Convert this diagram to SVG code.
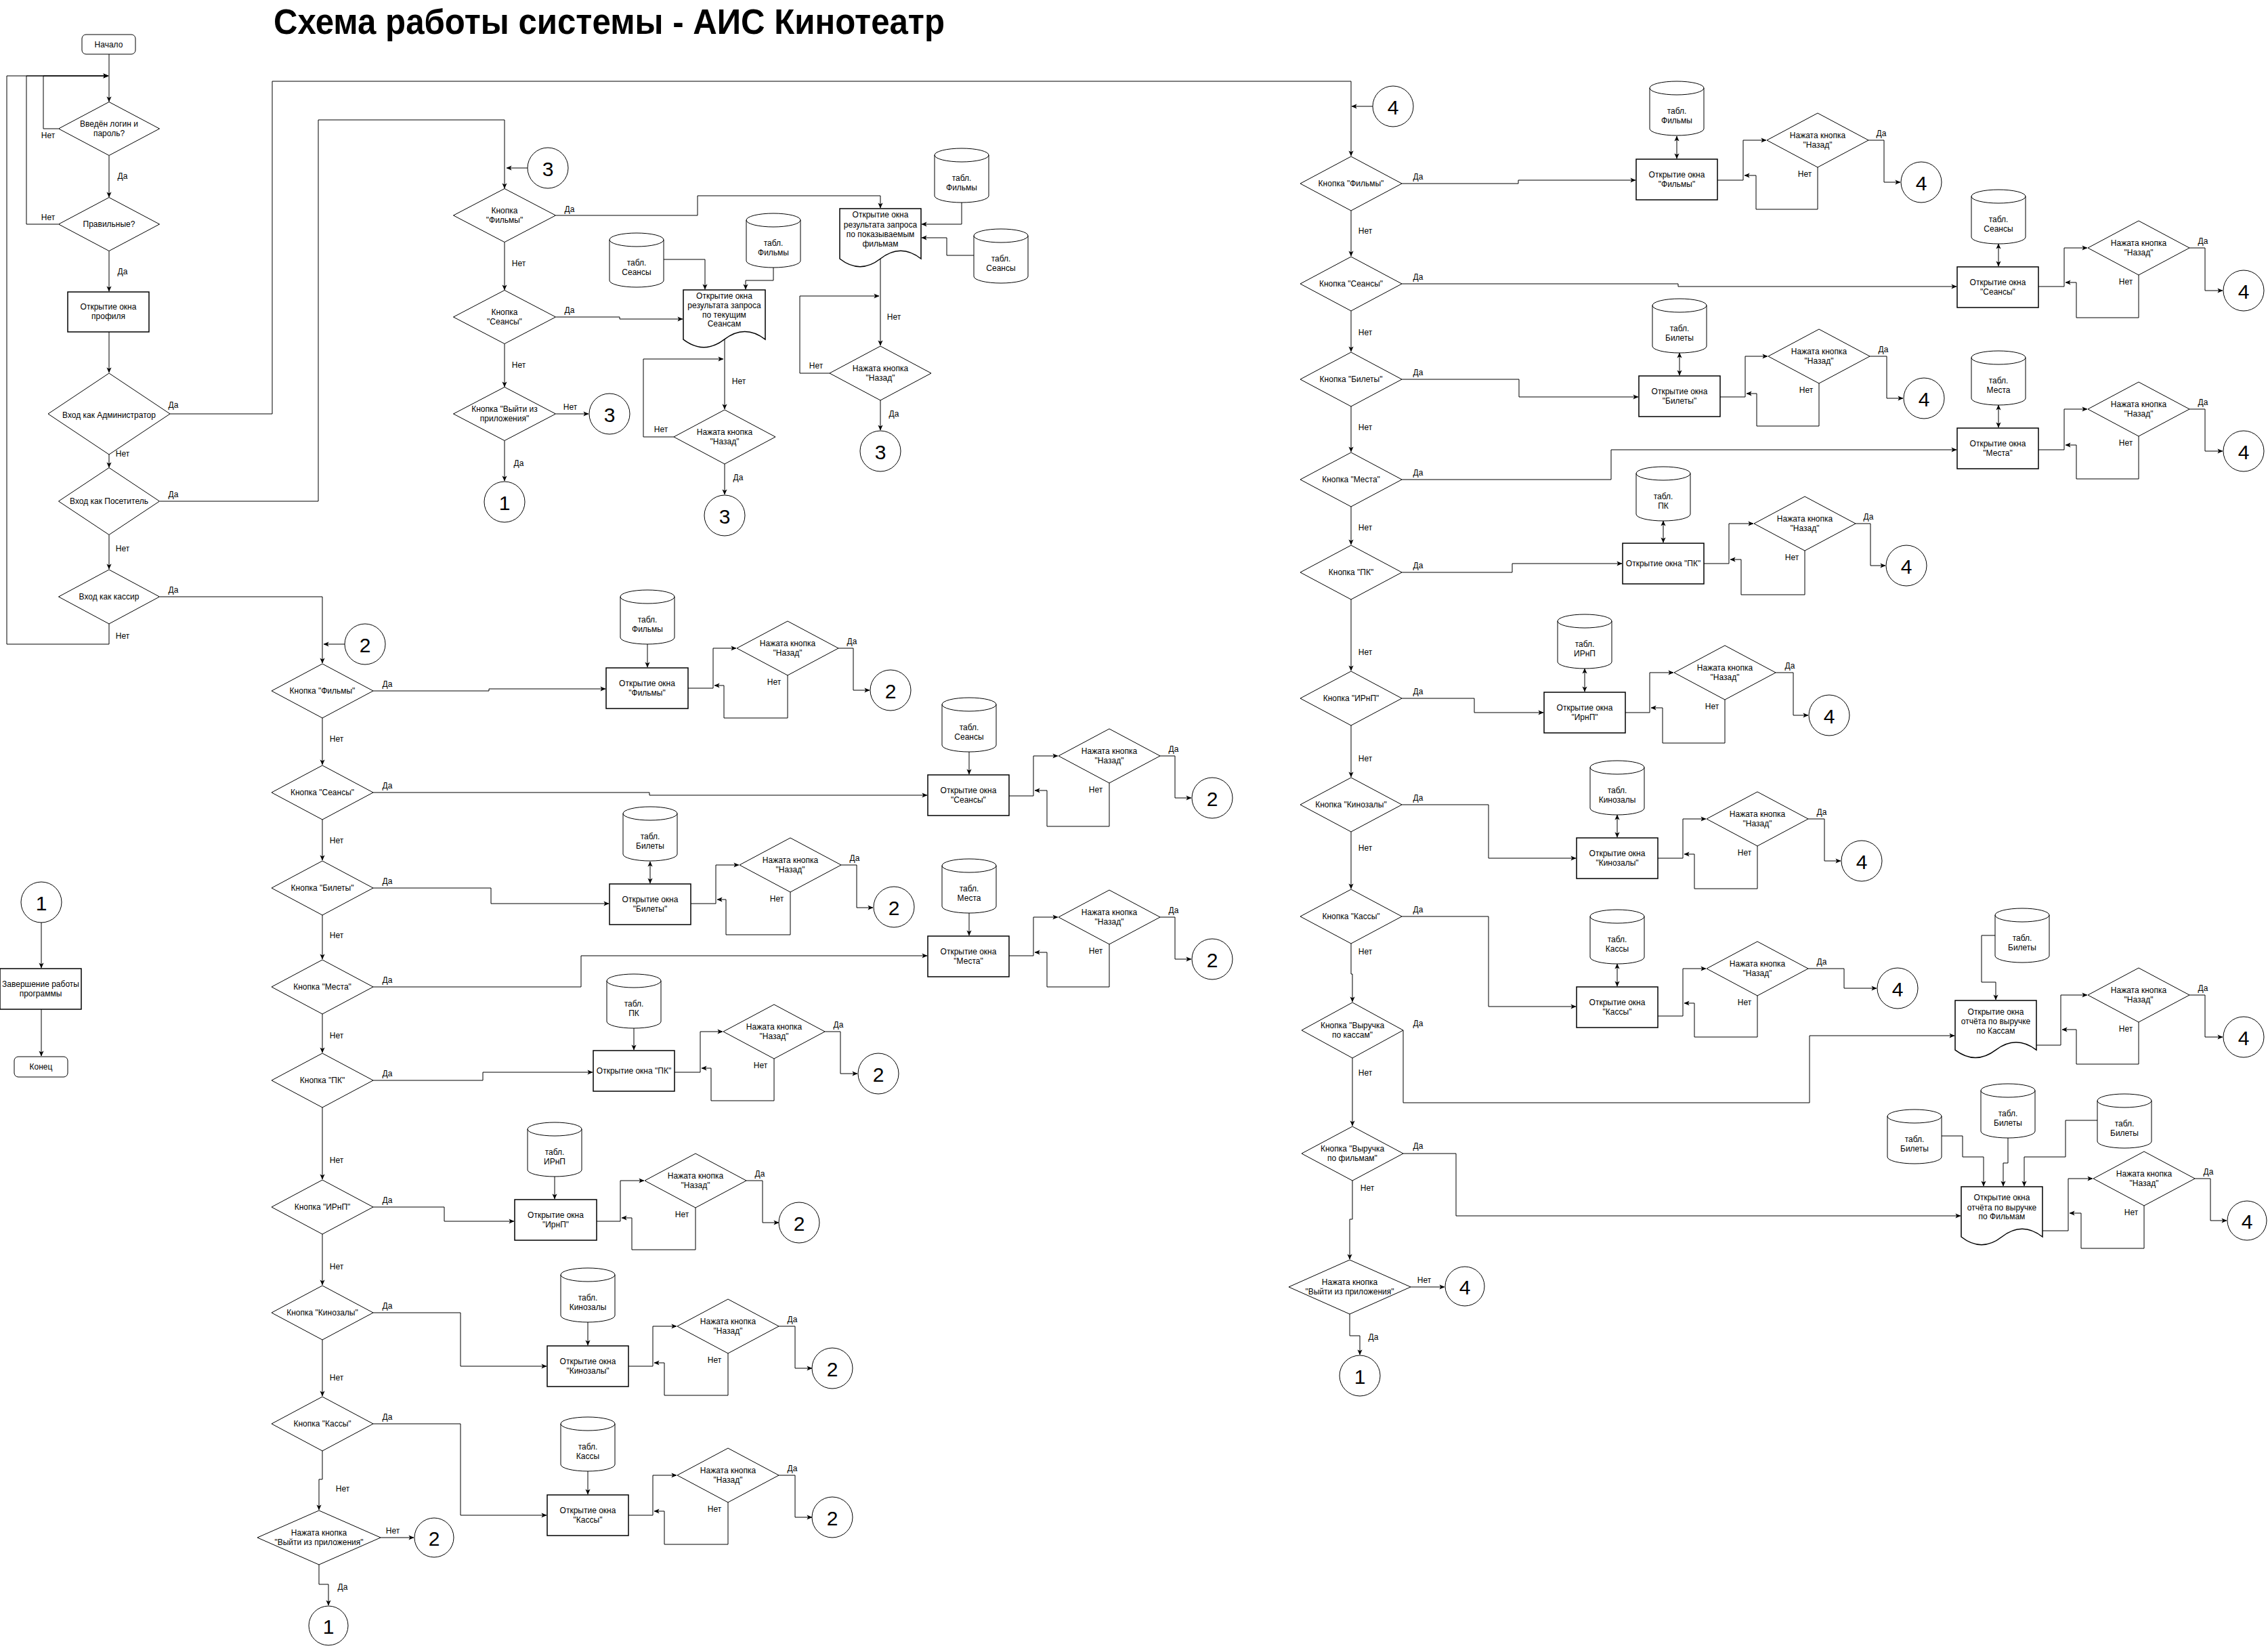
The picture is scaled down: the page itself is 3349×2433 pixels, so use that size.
<svg xmlns="http://www.w3.org/2000/svg" width="3349" height="2433" viewBox="0 0 3349 2433">
<defs>
<marker id="ar" viewBox="0 0 10 10" refX="9.5" refY="5" markerWidth="8" markerHeight="8" markerUnits="userSpaceOnUse" orient="auto-start-reverse"><path d="M0,0.5 L10,5 L0,9.5 L2.5,5 Z" fill="#000"/></marker>
</defs>
<style>
.n{fill:#fff;stroke:#000;stroke-width:1}
.r{fill:#fff;stroke:#000;stroke-width:1.5}
.f{fill:none;stroke:#000;stroke-width:1}
.c{fill:none;stroke:#000;stroke-width:1;marker-end:url(#ar)}
.d{fill:none;stroke:#000;stroke-width:1;marker-end:url(#ar);marker-start:url(#ar)}
text{font-family:"Liberation Sans",Arial,Helvetica,sans-serif;font-size:12px;text-anchor:middle;dominant-baseline:central;fill:#000}
.num{font-size:30px}
.ttl{font-size:51px;font-weight:bold;text-anchor:start;dominant-baseline:alphabetic}
</style>
<rect width="3349" height="2433" fill="#fff"/>
<text class="ttl" x="404" y="50" textLength="991" lengthAdjust="spacingAndGlyphs">Схема работы системы - АИС Кинотеатр</text>

<g id="connectors">
<!-- left column -->
<path class="c" d="M161,80 V150"/>
<path class="c" d="M86,190 H64 V112 H160"/>
<path class="c" d="M161,230 V291"/>
<path class="c" d="M86,331 H39 V112 H160"/>
<path class="c" d="M161,371 V430"/>
<path class="c" d="M161,490 V550"/>
<path class="c" d="M251,611 H402 V120 H1995 V230"/>
<path class="c" d="M161,671 V690"/>
<path class="c" d="M236,740 H470 V177 H745 V278"/>
<path class="c" d="M161,790 V840"/>
<path class="c" d="M236,881 H476 V979"/>
<path class="c" d="M161,921 V951 H10 V112 H160"/>
<path class="c" d="M61,1362 V1429"/>
<path class="c" d="M61,1490 V1559"/>
<!-- visitor -->
<path class="c" d="M779,248 H748"/>
<path class="c" d="M821,318 H1030 V289 H1300 V307"/>
<path class="c" d="M745,358 V428"/>
<path class="c" d="M821,468 H915 V471 H1008"/>
<path class="c" d="M745,508 V571"/>
<path class="c" d="M821,611 H869"/>
<path class="c" d="M745,651 V710"/>
<path class="c" d="M980,383 H1041 V427"/>
<path class="c" d="M1142,395 V414 H1101 V427"/>
<path class="c" d="M1070,501 V604"/>
<path class="c" d="M995,645 H950 V530 H1068"/>
<path class="c" d="M1070,685 V730"/>
<path class="c" d="M1420,299 V331 H1361"/>
<path class="c" d="M1438,377 H1398 V351 H1361"/>
<path class="c" d="M1300,382 V510"/>
<path class="c" d="M1225,551 H1181 V437 H1298"/>
<path class="c" d="M1300,591 V635"/>
<!-- cashier -->
<path class="c" d="M509,951 H478"/>
<path class="c" d="M551,1020 H722 V1017 H894"/>
<path class="c" d="M956,951 V985"/>
<path class="c" d="M1016,1016 H1053 V957 H1087"/>
<path class="c" d="M1238,957 H1260 V1019 H1284"/>
<path class="c" d="M1163,997 V1060 H1069 V1012 H1055"/>
<path class="c" d="M476,1060 V1129"/>
<path class="c" d="M551,1170 H959 V1174 H1369"/>
<path class="c" d="M1431,1110 V1143"/>
<path class="c" d="M1490,1175 H1526 V1116 H1562"/>
<path class="c" d="M1713,1116 H1735 V1178 H1759"/>
<path class="c" d="M1638,1156 V1220 H1546 V1167 H1528"/>
<path class="c" d="M476,1210 V1270"/>
<path class="c" d="M551,1311 H725 V1334 H899"/>
<path class="d" d="M960,1272 V1304"/>
<path class="c" d="M1020,1334 H1057 V1277 H1091"/>
<path class="c" d="M1242,1277 H1265 V1340 H1289"/>
<path class="c" d="M1167,1317 V1380 H1072 V1328 H1059"/>
<path class="c" d="M476,1351 V1416"/>
<path class="c" d="M551,1457 H858 V1411 H1369"/>
<path class="c" d="M1431,1348 V1381"/>
<path class="c" d="M1490,1411 H1526 V1354 H1562"/>
<path class="c" d="M1713,1354 H1735 V1416 H1759"/>
<path class="c" d="M1638,1394 V1457 H1546 V1406 H1528"/>
<path class="c" d="M476,1497 V1554"/>
<path class="c" d="M551,1595 H713 V1583 H875"/>
<path class="c" d="M936,1518 V1550"/>
<path class="c" d="M996,1583 H1034 V1523 H1067"/>
<path class="c" d="M1218,1523 H1241 V1585 H1266"/>
<path class="c" d="M1143,1563 V1625 H1050 V1577 H1036"/>
<path class="c" d="M476,1635 V1741"/>
<path class="c" d="M551,1782 H656 V1803 H759"/>
<path class="c" d="M819,1737 V1770"/>
<path class="c" d="M881,1803 H916 V1743 H951"/>
<path class="c" d="M1102,1743 H1126 V1805 H1150"/>
<path class="c" d="M1027,1783 V1845 H933 V1798 H918"/>
<path class="c" d="M476,1822 V1897"/>
<path class="c" d="M551,1938 H680 V2017 H807"/>
<path class="c" d="M868,1952 V1986"/>
<path class="c" d="M928,2017 H964 V1958 H999"/>
<path class="c" d="M1150,1958 H1174 V2020 H1199"/>
<path class="c" d="M1075,1998 V2060 H981 V2012 H966"/>
<path class="c" d="M476,1978 V2061"/>
<path class="c" d="M551,2102 H680 V2237 H807"/>
<path class="c" d="M868,2172 V2206"/>
<path class="c" d="M928,2237 H964 V2178 H999"/>
<path class="c" d="M1150,2178 H1174 V2240 H1199"/>
<path class="c" d="M1075,2218 V2280 H981 V2231 H966"/>
<path class="c" d="M476,2142 V2184 H471 V2229"/>
<path class="c" d="M562,2270 H611"/>
<path class="c" d="M471,2310 V2339 H485 V2370"/>
<!-- admin -->
<path class="c" d="M2027,157 H1996"/>
<path class="c" d="M2070,271 H2242 V266 H2415"/>
<path class="d" d="M2476,201 V234"/>
<path class="c" d="M2536,266 H2574 V207 H2608"/>
<path class="c" d="M2759,207 H2782 V269 H2806"/>
<path class="c" d="M2684,247 V309 H2593 V259 H2576"/>
<path class="c" d="M1995,311 V378"/>
<path class="c" d="M2070,419 H2478 V423 H2889"/>
<path class="d" d="M2951,360 V393"/>
<path class="c" d="M3010,423 H3048 V366 H3082"/>
<path class="c" d="M3233,366 H3256 V429 H3282"/>
<path class="c" d="M3158,406 V469 H3066 V417 H3050"/>
<path class="c" d="M1995,459 V519"/>
<path class="c" d="M2070,560 H2243 V586 H2419"/>
<path class="d" d="M2480,521 V554"/>
<path class="c" d="M2540,586 H2577 V526 H2610"/>
<path class="c" d="M2761,526 H2786 V588 H2810"/>
<path class="c" d="M2686,566 V629 H2594 V581 H2579"/>
<path class="c" d="M1995,600 V667"/>
<path class="c" d="M2070,708 H2379 V664 H2889"/>
<path class="d" d="M2951,598 V631"/>
<path class="c" d="M3010,664 H3048 V604 H3082"/>
<path class="c" d="M3233,604 H3256 V666 H3282"/>
<path class="c" d="M3158,644 V707 H3066 V657 H3050"/>
<path class="c" d="M1995,748 V804"/>
<path class="c" d="M2070,845 H2233 V832 H2395"/>
<path class="d" d="M2456,769 V801"/>
<path class="c" d="M2516,832 H2553 V773 H2589"/>
<path class="c" d="M2740,773 H2762 V835 H2784"/>
<path class="c" d="M2665,813 V878 H2571 V826 H2555"/>
<path class="c" d="M1995,885 V990"/>
<path class="c" d="M2070,1031 H2177 V1052 H2279"/>
<path class="d" d="M2340,987 V1021"/>
<path class="c" d="M2400,1052 H2436 V993 H2471"/>
<path class="c" d="M2622,993 H2648 V1056 H2670"/>
<path class="c" d="M2547,1033 V1097 H2455 V1045 H2438"/>
<path class="c" d="M1995,1071 V1147"/>
<path class="c" d="M2070,1188 H2198 V1267 H2327"/>
<path class="d" d="M2388,1203 V1236"/>
<path class="c" d="M2448,1267 H2485 V1209 H2519"/>
<path class="c" d="M2670,1209 H2694 V1271 H2718"/>
<path class="c" d="M2595,1249 V1312 H2502 V1261 H2487"/>
<path class="c" d="M1995,1228 V1312"/>
<path class="c" d="M2070,1353 H2198 V1486 H2327"/>
<path class="d" d="M2388,1423 V1456"/>
<path class="c" d="M2448,1500 H2485 V1430 H2519"/>
<path class="c" d="M2670,1430 H2723 V1459 H2771"/>
<path class="c" d="M2595,1470 V1531 H2502 V1481 H2487"/>
<path class="c" d="M1995,1393 V1438 H1997 V1479"/>
<path class="c" d="M2072,1521 V1628 H2672 V1529 H2886"/>
<path class="c" d="M2946,1381 H2926 V1450 H2947 V1476"/>
<path class="c" d="M3007,1543 H3043 V1469 H3082"/>
<path class="c" d="M3233,1469 H3256 V1531 H3282"/>
<path class="c" d="M3158,1509 V1571 H3066 V1520 H3045"/>
<path class="c" d="M1997,1562 V1662"/>
<path class="c" d="M2072,1703 H2150 V1795 H2895"/>
<path class="c" d="M2867,1677 H2898 V1708 H2929 V1751"/>
<path class="c" d="M2965,1680 V1717 H2958 V1751"/>
<path class="c" d="M3097,1654 H3050 V1708 H2989 V1751"/>
<path class="c" d="M3016,1817 H3054 V1740 H3090"/>
<path class="c" d="M3241,1740 H3264 V1802 H3288"/>
<path class="c" d="M3166,1780 V1843 H3073 V1791 H3056"/>
<path class="c" d="M1997,1743 V1800 H1993 V1859"/>
<path class="c" d="M2083,1900 H2133"/>
<path class="c" d="M1993,1940 V1972 H2008 V2000"/>
<!-- labels -->
<text x="71" y="200">Нет</text>
<text x="181" y="260">Да</text>
<text x="71" y="321">Нет</text>
<text x="181" y="401">Да</text>
<text x="256" y="598">Да</text>
<text x="181" y="670">Нет</text>
<text x="256" y="730">Да</text>
<text x="181" y="810">Нет</text>
<text x="256" y="871">Да</text>
<text x="181" y="939">Нет</text>
<text x="841" y="309">Да</text>
<text x="766" y="389">Нет</text>
<text x="841" y="458">Да</text>
<text x="766" y="539">Нет</text>
<text x="842" y="601">Нет</text>
<text x="766" y="684">Да</text>
<text x="1091" y="563">Нет</text>
<text x="976" y="634">Нет</text>
<text x="1090" y="705">Да</text>
<text x="1320" y="468">Нет</text>
<text x="1205" y="540">Нет</text>
<text x="1320" y="611">Да</text>
<text x="572" y="1010">Да</text>
<text x="572" y="1160">Да</text>
<text x="572" y="1301">Да</text>
<text x="572" y="1447">Да</text>
<text x="572" y="1585">Да</text>
<text x="572" y="1772">Да</text>
<text x="572" y="1928">Да</text>
<text x="572" y="2092">Да</text>
<text x="497" y="1091">Нет</text>
<text x="497" y="1241">Нет</text>
<text x="497" y="1381">Нет</text>
<text x="497" y="1529">Нет</text>
<text x="497" y="1713">Нет</text>
<text x="497" y="1870">Нет</text>
<text x="497" y="2034">Нет</text>
<text x="506" y="2198">Нет</text>
<text x="580" y="2260">Нет</text>
<text x="506" y="2343">Да</text>
<text x="1258" y="947">Да</text>
<text x="1733" y="1106">Да</text>
<text x="1262" y="1267">Да</text>
<text x="1733" y="1344">Да</text>
<text x="1238" y="1513">Да</text>
<text x="1122" y="1733">Да</text>
<text x="1170" y="1948">Да</text>
<text x="1170" y="2168">Да</text>
<text x="1143" y="1007">Нет</text>
<text x="1618" y="1166">Нет</text>
<text x="1147" y="1327">Нет</text>
<text x="1618" y="1404">Нет</text>
<text x="1123" y="1573">Нет</text>
<text x="1007" y="1793">Нет</text>
<text x="1055" y="2008">Нет</text>
<text x="1055" y="2228">Нет</text>
<text x="2094" y="261">Да</text>
<text x="2094" y="409">Да</text>
<text x="2094" y="550">Да</text>
<text x="2094" y="698">Да</text>
<text x="2094" y="835">Да</text>
<text x="2094" y="1021">Да</text>
<text x="2094" y="1178">Да</text>
<text x="2094" y="1343">Да</text>
<text x="2094" y="1511">Да</text>
<text x="2094" y="1692">Да</text>
<text x="2016" y="341">Нет</text>
<text x="2016" y="491">Нет</text>
<text x="2016" y="631">Нет</text>
<text x="2016" y="779">Нет</text>
<text x="2016" y="963">Нет</text>
<text x="2016" y="1120">Нет</text>
<text x="2016" y="1252">Нет</text>
<text x="2016" y="1405">Нет</text>
<text x="2016" y="1584">Нет</text>
<text x="2019" y="1754">Нет</text>
<text x="2103" y="1890">Нет</text>
<text x="2028" y="1974">Да</text>
<text x="2778" y="197">Да</text>
<text x="3253" y="356">Да</text>
<text x="2781" y="516">Да</text>
<text x="3253" y="594">Да</text>
<text x="2759" y="763">Да</text>
<text x="2643" y="983">Да</text>
<text x="2690" y="1199">Да</text>
<text x="2690" y="1420">Да</text>
<text x="3253" y="1459">Да</text>
<text x="3261" y="1730">Да</text>
<text x="2665" y="257">Нет</text>
<text x="3139" y="416">Нет</text>
<text x="2667" y="576">Нет</text>
<text x="3139" y="654">Нет</text>
<text x="2646" y="823">Нет</text>
<text x="2528" y="1043">Нет</text>
<text x="2576" y="1259">Нет</text>
<text x="2576" y="1480">Нет</text>
<text x="3139" y="1519">Нет</text>
<text x="3147" y="1790">Нет</text>
</g>

<!-- ===== left column ===== -->
<g id="start"><rect class="n" x="121" y="51" width="79" height="29" rx="6"/><text x="160.5" y="65.5">Начало</text></g>
<g id="d-login"><polygon class="n" points="86.5,190 161,150.5 235.5,190 161,229.5"/><text x="161" y="183">Введён логин и</text><text x="161" y="197">пароль?</text></g>
<g id="d-correct"><polygon class="n" points="86.5,331 161,291.5 235.5,331 161,370.5"/><text x="161" y="331">Правильные?</text></g>
<g id="r-profile"><rect class="r" x="100" y="431" width="120" height="59"/><text x="160" y="453">Открытие окна</text><text x="160" y="467">профиля</text></g>
<g id="d-admin"><polygon class="n" points="71,611 161,551 251,611 161,671"/><text x="161" y="613">Вход как Администратор</text></g>
<g id="d-visitor"><polygon class="n" points="86.5,740 161,690.5 235.5,740 161,789.5"/><text x="161" y="740">Вход как Посетитель</text></g>
<g id="d-cashier"><polygon class="n" points="86.5,881 161,841 235.5,881 161,921"/><text x="161" y="881">Вход как кассир</text></g>
<g id="c1-left"><circle class="n" cx="61" cy="1332" r="30"/><text class="num" x="61" y="1333">1</text></g>
<g id="r-finish"><rect class="r" x="0" y="1430" width="120" height="60"/><text x="60" y="1453">Завершение работы</text><text x="60" y="1467">программы</text></g>
<g id="end"><rect class="n" x="21" y="1560" width="79" height="30" rx="6"/><text x="60.5" y="1575">Конец</text></g>

<!-- ===== visitor ===== -->
<g id="v-c3a"><circle class="n" cx="809" cy="248" r="30"/><text class="num" x="809" y="249">3</text></g>
<g id="v-films"><polygon class="n" points="669.5,318 745,278.5 820.5,318 745,357.5"/><text x="745" y="311">Кнопка</text><text x="745" y="325">"Фильмы"</text></g>
<g id="v-sessions"><polygon class="n" points="669.5,468 745,428.5 820.5,468 745,507.5"/><text x="745" y="461">Кнопка</text><text x="745" y="475">"Сеансы"</text></g>
<g id="v-exit"><polygon class="n" points="669.5,611 745,571.5 820.5,611 745,650.5"/><text x="745" y="604">Кнопка "Выйти из</text><text x="745" y="618">приложения"</text></g>
<g id="v-c3b"><circle class="n" cx="900" cy="611" r="30"/><text class="num" x="900" y="612">3</text></g>
<g id="v-c1"><circle class="n" cx="745" cy="741" r="30"/><text class="num" x="745" y="742">1</text></g>
<g id="v-cyl-s1" transform="translate(900,344)"><path class="n" d="M0,10 a40,10 0 0 1 80,0 v60 a40,10 0 0 1 -80,0 z"/><path class="f" d="M0,10 a40,10 0 0 0 80,0"/><text x="40" y="44">табл.</text><text x="40" y="58">Сеансы</text></g>
<g id="v-cyl-f1" transform="translate(1102,315)"><path class="n" d="M0,10 a40,10 0 0 1 80,0 v60 a40,10 0 0 1 -80,0 z"/><path class="f" d="M0,10 a40,10 0 0 0 80,0"/><text x="40" y="44">табл.</text><text x="40" y="58">Фильмы</text></g>
<g id="v-doc1" transform="translate(1009,428)"><path class="r" d="M0,0 H121 V73.1 Q90.75,49.9 60.5,73.1 Q30.25,96.3 0,73.1 Z"/><text x="60.5" y="9">Открытие окна</text><text x="60.5" y="23">результата запроса</text><text x="60.5" y="37">по текущим</text><text x="60.5" y="50">Сеансам</text></g>
<g id="v-back1"><polygon class="n" points="995,645 1070,605 1145,645 1070,685"/><text x="1070" y="638">Нажата кнопка</text><text x="1070" y="652">"Назад"</text></g>
<g id="v-c3c"><circle class="n" cx="1070" cy="761" r="30"/><text class="num" x="1070" y="762">3</text></g>
<g id="v-doc2" transform="translate(1240,308)"><path class="r" d="M0,0 H120 V74 Q90,50.5 60,74 Q30,97.4 0,74 Z"/><text x="60" y="9">Открытие окна</text><text x="60" y="24">результата запроса</text><text x="60" y="38">по показываемым</text><text x="60" y="52">фильмам</text></g>
<g id="v-cyl-f2" transform="translate(1380,219)"><path class="n" d="M0,10 a40,10 0 0 1 80,0 v60 a40,10 0 0 1 -80,0 z"/><path class="f" d="M0,10 a40,10 0 0 0 80,0"/><text x="40" y="44">табл.</text><text x="40" y="58">Фильмы</text></g>
<g id="v-cyl-s2" transform="translate(1438,338)"><path class="n" d="M0,10 a40,10 0 0 1 80,0 v60 a40,10 0 0 1 -80,0 z"/><path class="f" d="M0,10 a40,10 0 0 0 80,0"/><text x="40" y="44">табл.</text><text x="40" y="58">Сеансы</text></g>
<g id="v-back2"><polygon class="n" points="1225,551 1300,511 1375,551 1300,591"/><text x="1300" y="544">Нажата кнопка</text><text x="1300" y="558">"Назад"</text></g>
<g id="v-c3d"><circle class="n" cx="1300" cy="666" r="30"/><text class="num" x="1300" y="667">3</text></g>

<!-- ===== cashier ===== -->
<g id="k-c2a"><circle class="n" cx="539" cy="951" r="30"/><text class="num" x="539" y="952">2</text></g>
<g id="k-films"><polygon class="n" points="401,1020 476,980 551,1020 476,1060"/><text x="476" y="1020">Кнопка "Фильмы"</text></g>
<g id="k-sessions"><polygon class="n" points="401,1170 476,1130 551,1170 476,1210"/><text x="476" y="1170">Кнопка "Сеансы"</text></g>
<g id="k-tickets"><polygon class="n" points="401,1311 476,1271 551,1311 476,1351"/><text x="476" y="1311">Кнопка "Билеты"</text></g>
<g id="k-seats"><polygon class="n" points="401,1457 476,1417 551,1457 476,1497"/><text x="476" y="1457">Кнопка "Места"</text></g>
<g id="k-pk"><polygon class="n" points="401,1595 476,1555 551,1595 476,1635"/><text x="476" y="1595">Кнопка "ПК"</text></g>
<g id="k-irnp"><polygon class="n" points="401,1782 476,1742 551,1782 476,1822"/><text x="476" y="1782">Кнопка "ИРнП"</text></g>
<g id="k-halls"><polygon class="n" points="401,1938 476,1898 551,1938 476,1978"/><text x="476" y="1938">Кнопка "Кинозалы"</text></g>
<g id="k-cash"><polygon class="n" points="401,2102 476,2062 551,2102 476,2142"/><text x="476" y="2102">Кнопка "Кассы"</text></g>
<g id="k-exit"><polygon class="n" points="380,2270 471,2230 562,2270 471,2310"/><text x="471" y="2263">Нажата кнопка</text><text x="471" y="2277">"Выйти из приложения"</text></g>
<g id="k-c2x"><circle class="n" cx="641" cy="2270" r="29"/><text class="num" x="641" y="2271">2</text></g>
<g id="k-c1"><circle class="n" cx="485" cy="2400" r="29"/><text class="num" x="485" y="2401">1</text></g>

<g id="k-r1"><rect class="r" x="895" y="986" width="121" height="60"/><text x="955.5" y="1009">Открытие окна</text><text x="955.5" y="1023">"Фильмы"</text></g>
<g id="k-cyl1" transform="translate(916,871)"><path class="n" d="M0,10 a40,10 0 0 1 80,0 v60 a40,10 0 0 1 -80,0 z"/><path class="f" d="M0,10 a40,10 0 0 0 80,0"/><text x="40" y="44">табл.</text><text x="40" y="58">Фильмы</text></g>
<g id="k-b1"><polygon class="n" points="1088,957 1163,917 1238,957 1163,997"/><text x="1163" y="950">Нажата кнопка</text><text x="1163" y="964">"Назад"</text></g>
<g id="k-n1"><circle class="n" cx="1315" cy="1019" r="30"/><text class="num" x="1315" y="1020">2</text></g>

<g id="k-r2"><rect class="r" x="1370" y="1144" width="120" height="60"/><text x="1430" y="1167">Открытие окна</text><text x="1430" y="1181">"Сеансы"</text></g>
<g id="k-cyl2" transform="translate(1391,1030)"><path class="n" d="M0,10 a40,10 0 0 1 80,0 v60 a40,10 0 0 1 -80,0 z"/><path class="f" d="M0,10 a40,10 0 0 0 80,0"/><text x="40" y="44">табл.</text><text x="40" y="58">Сеансы</text></g>
<g id="k-b2"><polygon class="n" points="1563,1116 1638,1076 1713,1116 1638,1156"/><text x="1638" y="1109">Нажата кнопка</text><text x="1638" y="1123">"Назад"</text></g>
<g id="k-n2"><circle class="n" cx="1790" cy="1178" r="30"/><text class="num" x="1790" y="1179">2</text></g>

<g id="k-r3"><rect class="r" x="900" y="1305" width="120" height="60"/><text x="960" y="1328">Открытие окна</text><text x="960" y="1342">"Билеты"</text></g>
<g id="k-cyl3" transform="translate(920,1191)"><path class="n" d="M0,10 a40,10 0 0 1 80,0 v60 a40,10 0 0 1 -80,0 z"/><path class="f" d="M0,10 a40,10 0 0 0 80,0"/><text x="40" y="44">табл.</text><text x="40" y="58">Билеты</text></g>
<g id="k-b3"><polygon class="n" points="1092,1277 1167,1237 1242,1277 1167,1317"/><text x="1167" y="1270">Нажата кнопка</text><text x="1167" y="1284">"Назад"</text></g>
<g id="k-n3"><circle class="n" cx="1320" cy="1339" r="30"/><text class="num" x="1320" y="1340">2</text></g>

<g id="k-r4"><rect class="r" x="1370" y="1382" width="120" height="60"/><text x="1430" y="1405">Открытие окна</text><text x="1430" y="1419">"Места"</text></g>
<g id="k-cyl4" transform="translate(1391,1268)"><path class="n" d="M0,10 a40,10 0 0 1 80,0 v60 a40,10 0 0 1 -80,0 z"/><path class="f" d="M0,10 a40,10 0 0 0 80,0"/><text x="40" y="44">табл.</text><text x="40" y="58">Места</text></g>
<g id="k-b4"><polygon class="n" points="1563,1354 1638,1314 1713,1354 1638,1394"/><text x="1638" y="1347">Нажата кнопка</text><text x="1638" y="1361">"Назад"</text></g>
<g id="k-n4"><circle class="n" cx="1790" cy="1416" r="30"/><text class="num" x="1790" y="1417">2</text></g>

<g id="k-r5"><rect class="r" x="876" y="1551" width="120" height="60"/><text x="936" y="1581">Открытие окна "ПК"</text></g>
<g id="k-cyl5" transform="translate(896,1438)"><path class="n" d="M0,10 a40,10 0 0 1 80,0 v60 a40,10 0 0 1 -80,0 z"/><path class="f" d="M0,10 a40,10 0 0 0 80,0"/><text x="40" y="44">табл.</text><text x="40" y="58">ПК</text></g>
<g id="k-b5"><polygon class="n" points="1068,1523 1143,1483 1218,1523 1143,1563"/><text x="1143" y="1516">Нажата кнопка</text><text x="1143" y="1530">"Назад"</text></g>
<g id="k-n5"><circle class="n" cx="1297" cy="1585" r="30"/><text class="num" x="1297" y="1586">2</text></g>

<g id="k-r6"><rect class="r" x="760" y="1771" width="121" height="60"/><text x="820.5" y="1794">Открытие окна</text><text x="820.5" y="1808">"ИрнП"</text></g>
<g id="k-cyl6" transform="translate(779,1657)"><path class="n" d="M0,10 a40,10 0 0 1 80,0 v60 a40,10 0 0 1 -80,0 z"/><path class="f" d="M0,10 a40,10 0 0 0 80,0"/><text x="40" y="44">табл.</text><text x="40" y="58">ИРнП</text></g>
<g id="k-b6"><polygon class="n" points="952,1743 1027,1703 1102,1743 1027,1783"/><text x="1027" y="1736">Нажата кнопка</text><text x="1027" y="1750">"Назад"</text></g>
<g id="k-n6"><circle class="n" cx="1180" cy="1805" r="30"/><text class="num" x="1180" y="1806">2</text></g>

<g id="k-r7"><rect class="r" x="808" y="1987" width="120" height="60"/><text x="868" y="2010">Открытие окна</text><text x="868" y="2024">"Кинозалы"</text></g>
<g id="k-cyl7" transform="translate(828,1872)"><path class="n" d="M0,10 a40,10 0 0 1 80,0 v60 a40,10 0 0 1 -80,0 z"/><path class="f" d="M0,10 a40,10 0 0 0 80,0"/><text x="40" y="44">табл.</text><text x="40" y="58">Кинозалы</text></g>
<g id="k-b7"><polygon class="n" points="1000,1958 1075,1918 1150,1958 1075,1998"/><text x="1075" y="1951">Нажата кнопка</text><text x="1075" y="1965">"Назад"</text></g>
<g id="k-n7"><circle class="n" cx="1229" cy="2020" r="30"/><text class="num" x="1229" y="2021">2</text></g>

<g id="k-r8"><rect class="r" x="808" y="2207" width="120" height="60"/><text x="868" y="2230">Открытие окна</text><text x="868" y="2244">"Кассы"</text></g>
<g id="k-cyl8" transform="translate(828,2092)"><path class="n" d="M0,10 a40,10 0 0 1 80,0 v60 a40,10 0 0 1 -80,0 z"/><path class="f" d="M0,10 a40,10 0 0 0 80,0"/><text x="40" y="44">табл.</text><text x="40" y="58">Кассы</text></g>
<g id="k-b8"><polygon class="n" points="1000,2178 1075,2138 1150,2178 1075,2218"/><text x="1075" y="2171">Нажата кнопка</text><text x="1075" y="2185">"Назад"</text></g>
<g id="k-n8"><circle class="n" cx="1229" cy="2240" r="30"/><text class="num" x="1229" y="2241">2</text></g>

<!-- ===== admin ===== -->
<g id="a-c4"><circle class="n" cx="2057" cy="157" r="30"/><text class="num" x="2057" y="158">4</text></g>
<g id="a-films"><polygon class="n" points="1920,271 1995,231 2070,271 1995,311"/><text x="1995" y="271">Кнопка "Фильмы"</text></g>
<g id="a-sessions"><polygon class="n" points="1920,419 1995,379 2070,419 1995,459"/><text x="1995" y="419">Кнопка "Сеансы"</text></g>
<g id="a-tickets"><polygon class="n" points="1920,560 1995,520 2070,560 1995,600"/><text x="1995" y="560">Кнопка "Билеты"</text></g>
<g id="a-seats"><polygon class="n" points="1920,708 1995,668 2070,708 1995,748"/><text x="1995" y="708">Кнопка "Места"</text></g>
<g id="a-pk"><polygon class="n" points="1920,845 1995,805 2070,845 1995,885"/><text x="1995" y="845">Кнопка "ПК"</text></g>
<g id="a-irnp"><polygon class="n" points="1920,1031 1995,991 2070,1031 1995,1071"/><text x="1995" y="1031">Кнопка "ИРнП"</text></g>
<g id="a-halls"><polygon class="n" points="1920,1188 1995,1148 2070,1188 1995,1228"/><text x="1995" y="1188">Кнопка "Кинозалы"</text></g>
<g id="a-cash"><polygon class="n" points="1920,1353 1995,1313 2070,1353 1995,1393"/><text x="1995" y="1353">Кнопка "Кассы"</text></g>
<g id="a-rev-cash"><polygon class="n" points="1922,1521 1997,1480 2072,1521 1997,1562"/><text x="1997" y="1514">Кнопка "Выручка</text><text x="1997" y="1528">по кассам"</text></g>
<g id="a-rev-films"><polygon class="n" points="1922,1703 1997,1663 2072,1703 1997,1743"/><text x="1997" y="1696">Кнопка "Выручка</text><text x="1997" y="1710">по фильмам"</text></g>
<g id="a-exit"><polygon class="n" points="1903,1900 1993,1860 2083,1900 1993,1940"/><text x="1993" y="1893">Нажата кнопка</text><text x="1993" y="1907">"Выйти из приложения"</text></g>
<g id="a-c4x"><circle class="n" cx="2163" cy="1899" r="29"/><text class="num" x="2163" y="1900">4</text></g>
<g id="a-c1"><circle class="n" cx="2008" cy="2031" r="30"/><text class="num" x="2008" y="2032">1</text></g>

<g id="a-r1"><rect class="r" x="2416" y="235" width="120" height="60"/><text x="2476" y="258">Открытие окна</text><text x="2476" y="272">"Фильмы"</text></g>
<g id="a-cyl1" transform="translate(2436,120)"><path class="n" d="M0,10 a40,10 0 0 1 80,0 v60 a40,10 0 0 1 -80,0 z"/><path class="f" d="M0,10 a40,10 0 0 0 80,0"/><text x="40" y="44">табл.</text><text x="40" y="58">Фильмы</text></g>
<g id="a-b1"><polygon class="n" points="2609,207 2684,167 2759,207 2684,247"/><text x="2684" y="200">Нажата кнопка</text><text x="2684" y="214">"Назад"</text></g>
<g id="a-n1"><circle class="n" cx="2837" cy="269" r="30"/><text class="num" x="2837" y="270">4</text></g>

<g id="a-r2"><rect class="r" x="2890" y="394" width="120" height="60"/><text x="2950" y="417">Открытие окна</text><text x="2950" y="431">"Сеансы"</text></g>
<g id="a-cyl2" transform="translate(2911,280)"><path class="n" d="M0,10 a40,10 0 0 1 80,0 v60 a40,10 0 0 1 -80,0 z"/><path class="f" d="M0,10 a40,10 0 0 0 80,0"/><text x="40" y="44">табл.</text><text x="40" y="58">Сеансы</text></g>
<g id="a-b2"><polygon class="n" points="3083,366 3158,326 3233,366 3158,406"/><text x="3158" y="359">Нажата кнопка</text><text x="3158" y="373">"Назад"</text></g>
<g id="a-n2"><circle class="n" cx="3313" cy="429" r="30"/><text class="num" x="3313" y="430">4</text></g>

<g id="a-r3"><rect class="r" x="2420" y="555" width="120" height="60"/><text x="2480" y="578">Открытие окна</text><text x="2480" y="592">"Билеты"</text></g>
<g id="a-cyl3" transform="translate(2440,441)"><path class="n" d="M0,10 a40,10 0 0 1 80,0 v60 a40,10 0 0 1 -80,0 z"/><path class="f" d="M0,10 a40,10 0 0 0 80,0"/><text x="40" y="44">табл.</text><text x="40" y="58">Билеты</text></g>
<g id="a-b3"><polygon class="n" points="2611,526 2686,486 2761,526 2686,566"/><text x="2686" y="519">Нажата кнопка</text><text x="2686" y="533">"Назад"</text></g>
<g id="a-n3"><circle class="n" cx="2841" cy="588" r="30"/><text class="num" x="2841" y="589">4</text></g>

<g id="a-r4"><rect class="r" x="2890" y="632" width="120" height="60"/><text x="2950" y="655">Открытие окна</text><text x="2950" y="669">"Места"</text></g>
<g id="a-cyl4" transform="translate(2911,518)"><path class="n" d="M0,10 a40,10 0 0 1 80,0 v60 a40,10 0 0 1 -80,0 z"/><path class="f" d="M0,10 a40,10 0 0 0 80,0"/><text x="40" y="44">табл.</text><text x="40" y="58">Места</text></g>
<g id="a-b4"><polygon class="n" points="3083,604 3158,564 3233,604 3158,644"/><text x="3158" y="597">Нажата кнопка</text><text x="3158" y="611">"Назад"</text></g>
<g id="a-n4"><circle class="n" cx="3313" cy="666" r="30"/><text class="num" x="3313" y="667">4</text></g>

<g id="a-r5"><rect class="r" x="2396" y="802" width="120" height="60"/><text x="2456" y="832">Открытие окна "ПК"</text></g>
<g id="a-cyl5" transform="translate(2416,689)"><path class="n" d="M0,10 a40,10 0 0 1 80,0 v60 a40,10 0 0 1 -80,0 z"/><path class="f" d="M0,10 a40,10 0 0 0 80,0"/><text x="40" y="44">табл.</text><text x="40" y="58">ПК</text></g>
<g id="a-b5"><polygon class="n" points="2590,773 2665,733 2740,773 2665,813"/><text x="2665" y="766">Нажата кнопка</text><text x="2665" y="780">"Назад"</text></g>
<g id="a-n5"><circle class="n" cx="2815" cy="835" r="30"/><text class="num" x="2815" y="836">4</text></g>

<g id="a-r6"><rect class="r" x="2280" y="1022" width="120" height="60"/><text x="2340" y="1045">Открытие окна</text><text x="2340" y="1059">"ИрнП"</text></g>
<g id="a-cyl6" transform="translate(2300,907)"><path class="n" d="M0,10 a40,10 0 0 1 80,0 v60 a40,10 0 0 1 -80,0 z"/><path class="f" d="M0,10 a40,10 0 0 0 80,0"/><text x="40" y="44">табл.</text><text x="40" y="58">ИРнП</text></g>
<g id="a-b6"><polygon class="n" points="2472,993 2547,953 2622,993 2547,1033"/><text x="2547" y="986">Нажата кнопка</text><text x="2547" y="1000">"Назад"</text></g>
<g id="a-n6"><circle class="n" cx="2701" cy="1056" r="30"/><text class="num" x="2701" y="1057">4</text></g>

<g id="a-r7"><rect class="r" x="2328" y="1237" width="120" height="60"/><text x="2388" y="1260">Открытие окна</text><text x="2388" y="1274">"Кинозалы"</text></g>
<g id="a-cyl7" transform="translate(2348,1123)"><path class="n" d="M0,10 a40,10 0 0 1 80,0 v60 a40,10 0 0 1 -80,0 z"/><path class="f" d="M0,10 a40,10 0 0 0 80,0"/><text x="40" y="44">табл.</text><text x="40" y="58">Кинозалы</text></g>
<g id="a-b7"><polygon class="n" points="2520,1209 2595,1169 2670,1209 2595,1249"/><text x="2595" y="1202">Нажата кнопка</text><text x="2595" y="1216">"Назад"</text></g>
<g id="a-n7"><circle class="n" cx="2749" cy="1271" r="30"/><text class="num" x="2749" y="1272">4</text></g>

<g id="a-r8"><rect class="r" x="2328" y="1457" width="120" height="60"/><text x="2388" y="1480">Открытие окна</text><text x="2388" y="1494">"Кассы"</text></g>
<g id="a-cyl8" transform="translate(2348,1343)"><path class="n" d="M0,10 a40,10 0 0 1 80,0 v60 a40,10 0 0 1 -80,0 z"/><path class="f" d="M0,10 a40,10 0 0 0 80,0"/><text x="40" y="44">табл.</text><text x="40" y="58">Кассы</text></g>
<g id="a-b8"><polygon class="n" points="2520,1430 2595,1390 2670,1430 2595,1470"/><text x="2595" y="1423">Нажата кнопка</text><text x="2595" y="1437">"Назад"</text></g>
<g id="a-n8"><circle class="n" cx="2802" cy="1459" r="30"/><text class="num" x="2802" y="1460">4</text></g>

<g id="a-doc1" transform="translate(2887,1477)"><path class="r" d="M0,0 H120 V73.1 Q90,50.5 60,73.1 Q30,95.8 0,73.1 Z"/><text x="60" y="17">Открытие окна</text><text x="60" y="31">отчёта по выручке</text><text x="60" y="45">по Кассам</text></g>
<g id="a-cyl9" transform="translate(2946,1341)"><path class="n" d="M0,10 a40,10 0 0 1 80,0 v60 a40,10 0 0 1 -80,0 z"/><path class="f" d="M0,10 a40,10 0 0 0 80,0"/><text x="40" y="44">табл.</text><text x="40" y="58">Билеты</text></g>
<g id="a-b9"><polygon class="n" points="3083,1469 3158,1429 3233,1469 3158,1509"/><text x="3158" y="1462">Нажата кнопка</text><text x="3158" y="1476">"Назад"</text></g>
<g id="a-n9"><circle class="n" cx="3313" cy="1531" r="30"/><text class="num" x="3313" y="1532">4</text></g>

<g id="a-doc2" transform="translate(2896,1752)"><path class="r" d="M0,0 H120 V74 Q90,50.5 60,74 Q30,97.4 0,74 Z"/><text x="60" y="16">Открытие окна</text><text x="60" y="31">отчёта по выручке</text><text x="60" y="44">по Фильмам</text></g>
<g id="a-cyl10" transform="translate(2787,1638)"><path class="n" d="M0,10 a40,10 0 0 1 80,0 v60 a40,10 0 0 1 -80,0 z"/><path class="f" d="M0,10 a40,10 0 0 0 80,0"/><text x="40" y="44">табл.</text><text x="40" y="58">Билеты</text></g>
<g id="a-cyl11" transform="translate(2925,1600)"><path class="n" d="M0,10 a40,10 0 0 1 80,0 v60 a40,10 0 0 1 -80,0 z"/><path class="f" d="M0,10 a40,10 0 0 0 80,0"/><text x="40" y="44">табл.</text><text x="40" y="58">Билеты</text></g>
<g id="a-cyl12" transform="translate(3097,1615)"><path class="n" d="M0,10 a40,10 0 0 1 80,0 v60 a40,10 0 0 1 -80,0 z"/><path class="f" d="M0,10 a40,10 0 0 0 80,0"/><text x="40" y="44">табл.</text><text x="40" y="58">Билеты</text></g>
<g id="a-b10"><polygon class="n" points="3091,1740 3166,1700 3241,1740 3166,1780"/><text x="3166" y="1733">Нажата кнопка</text><text x="3166" y="1747">"Назад"</text></g>
<g id="a-n10"><circle class="n" cx="3318" cy="1802" r="29"/><text class="num" x="3318" y="1803">4</text></g>
</svg>
